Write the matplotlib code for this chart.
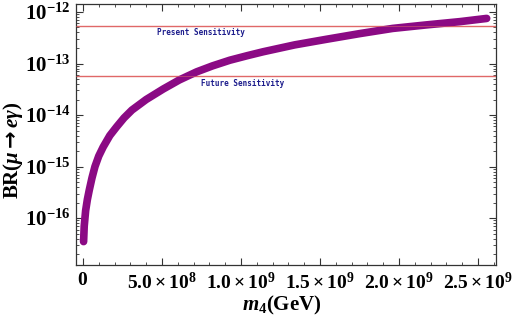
import math
import matplotlib
matplotlib.use("Agg")
import matplotlib.pyplot as plt
from matplotlib.ticker import FixedLocator, MultipleLocator, LogLocator, NullFormatter

plt.rcParams['mathtext.fontset'] = 'custom'
plt.rcParams['mathtext.rm'] = 'Liberation Serif:bold'
plt.rcParams['mathtext.it'] = 'Liberation Serif:italic:bold'
plt.rcParams['mathtext.bf'] = 'Liberation Serif:bold'
plt.rcParams['mathtext.sf'] = 'DejaVu Sans:bold'
plt.rcParams['mathtext.default'] = 'rm'
plt.rcParams['font.family'] = 'Liberation Serif'
plt.rcParams['font.weight'] = 'bold'

# data
m4 = [0.004e9, 0.008e9, 0.017e9, 0.028e9, 0.04e9, 0.057e9, 0.076e9, 0.1e9, 0.128e9,
      0.17e9, 0.213e9, 0.26e9, 0.31e9, 0.4e9, 0.508e9, 0.61e9, 0.72e9, 0.82e9,
      0.93e9, 1.04e9, 1.14e9, 1.34e9, 1.54e9, 1.75e9, 1.96e9, 2.17e9, 2.386e9, 2.555e9]
br = [3.5e-17, 7.0e-17, 1.4e-16, 2.3e-16, 3.5e-16, 6.0e-16, 1.0e-15, 1.6e-15, 2.4e-15,
      4.0e-15, 5.9e-15, 8.8e-15, 1.25e-14, 2.0e-14, 3.2e-14, 4.8e-14, 6.9e-14, 9.0e-14,
      1.16e-13, 1.42e-13, 1.69e-13, 2.3e-13, 2.95e-13, 3.8e-13, 4.8e-13, 5.6e-13, 6.5e-13, 7.5e-13]
present_sens = 5.4e-13
future_sens = 5.8e-14
x_ticks = [0, 0.5e9, 1.0e9, 1.5e9, 2.0e9, 2.5e9]
x_labels = [r'$0$', r'$5.0\times10^{8}$', r'$1.0\times10^{9}$', r'$1.5\times10^{9}$',
            r'$2.0\times10^{9}$', r'$2.5\times10^{9}$']
y_ticks = [1e-16, 1e-15, 1e-14, 1e-13, 1e-12]

fig = plt.figure(figsize=(5.26, 3.2), dpi=100)
ax = fig.add_axes([76/526, 55/320, 420/526, 261/320])

ax.plot(m4, br, color='#8b0a84', lw=5.5, solid_capstyle='round', zorder=3)
ax.axhline(present_sens, color='#e06868', lw=1.0, zorder=2)
ax.axhline(future_sens, color='#e06868', lw=1.0, zorder=2)
ax.axhline(present_sens, color='#e06868', lw=0.6, alpha=0.6, zorder=4)
ax.axhline(future_sens, color='#e06868', lw=0.6, alpha=0.6, zorder=4)

ax.text(0.468e9, present_sens * 0.9, 'Present Sensitivity', color='#1c1c8c',
        fontsize=5.5, family='DejaVu Sans Mono', weight='bold', va='top', ha='left')
ax.text(0.747e9, future_sens * 0.88, 'Future Sensitivity', color='#1c1c8c',
        fontsize=5.5, family='DejaVu Sans Mono', weight='bold', va='top', ha='left')

ax.set_yscale('log')
ax.set_xlim(-0.044e9, 2.614e9)
ax.set_ylim(10**-16.91, 10**-11.845)

ax.xaxis.set_major_locator(FixedLocator(x_ticks))
ax.set_xticklabels(x_labels)
ax.xaxis.set_minor_locator(MultipleLocator(1e8))
ax.yaxis.set_major_locator(FixedLocator(y_ticks))
ax.set_yticklabels([r'$10^{%d}$' % round(math.log10(v)) for v in y_ticks])
ax.yaxis.set_minor_locator(LogLocator(base=10, subs=range(2, 10), numticks=20))
ax.yaxis.set_minor_formatter(NullFormatter())

ax.tick_params(which='both', direction='in', top=True, right=True, colors='#333333',
               labelcolor='black')
ax.tick_params(axis='y', labelsize=15, pad=4)
ax.tick_params(axis='x', labelsize=14, pad=5)
ax.tick_params(which='major', length=5, width=0.8)
ax.tick_params(which='minor', length=2.5, width=0.6)
for s in ax.spines.values():
    s.set_color('#333333')
    s.set_linewidth(0.9)

ax.set_ylabel(r'BR($\mathit{\mu}\mathsf{\rightarrow}\mathit{e\gamma}$)', fontsize=15, fontweight='bold')
ax.yaxis.set_label_coords(-0.122, 0.44)
ax.set_xlabel(r'$\mathit{m}_{4}$(GeV)', fontsize=15, fontweight='bold')
ax.xaxis.set_label_coords(0.49, -0.11)

fig.savefig('out.png', dpi=100)
